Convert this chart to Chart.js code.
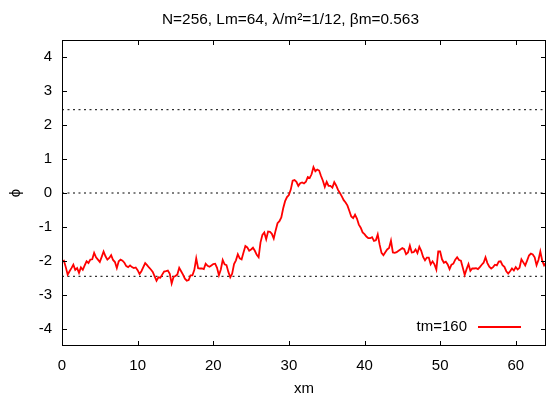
<!DOCTYPE html>
<html>
<head>
<meta charset="utf-8">
<script src="https://cdn.jsdelivr.net/npm/chart.js@4"></script>
<style>
  html, body { margin: 0; padding: 0; background: #fff; }
  canvas { display: block; }
</style>
</head>
<body>
<canvas id="c" width="546" height="398"></canvas>
<script>
// Lattice field snapshot phi(x) at tm=160
const titleText = 'N=256, Lm=64, λ/m²=1/12, βm=0.563';
const N = 256;
const Lm = 64;
const seriesLabel = 'tm=160';

const phi = [
  -2.01, -1.99, -2.18, -2.40, -2.30, -2.21, -2.11, -2.26, -2.21, -2.35,
  -2.19, -2.26, -2.13, -2.01, -2.06, -1.96, -1.95, -1.76, -1.89, -1.96,
  -2.03, -1.88, -1.72, -1.86, -1.96, -1.91, -1.83, -1.97, -2.03, -2.21,
  -2.01, -1.96, -1.99, -2.05, -2.15, -2.18, -2.13, -2.18, -2.21, -2.19,
  -2.27, -2.38, -2.30, -2.18, -2.06, -2.12, -2.19, -2.25, -2.32, -2.45,
  -2.58, -2.48, -2.49, -2.40, -2.31, -2.30, -2.28, -2.38, -2.66, -2.47,
  -2.44, -2.40, -2.20, -2.30, -2.40, -2.52, -2.58, -2.56, -2.42, -2.42,
  -2.26, -1.92, -2.21, -2.22, -2.22, -2.24, -2.08, -2.14, -2.17, -2.13,
  -2.09, -2.08, -2.20, -2.42, -2.25, -1.97, -2.10, -2.12, -2.32, -2.48,
  -2.37, -2.09, -1.98, -1.80, -1.92, -1.95, -1.75, -1.56, -1.60, -1.70,
  -1.66, -1.61, -1.70, -1.82, -1.89, -1.45, -1.23, -1.16, -1.36, -1.13,
  -1.14, -1.20, -1.34, -1.10, -0.89, -0.83, -0.72, -0.45, -0.24, -0.12,
  -0.06,  0.10,  0.36,  0.38,  0.33,  0.21,  0.29,  0.31,  0.28,  0.33,
   0.47,  0.44,  0.55,  0.76,  0.64,  0.69,  0.66,  0.50,  0.36,  0.18,
   0.33,  0.21,  0.21,  0.16,  0.32,  0.22,  0.09,  0.00, -0.10, -0.21,
  -0.28, -0.37, -0.53, -0.69, -0.74, -0.64, -0.75, -0.93, -1.02, -1.16,
  -1.21, -1.28, -1.33, -1.33, -1.30, -1.41, -1.39, -1.22, -1.52, -1.76,
  -1.83, -1.74, -1.66, -1.62, -1.40, -1.75, -1.76, -1.74, -1.70, -1.66,
  -1.62, -1.65, -1.80, -1.75, -1.55, -1.75, -1.74, -1.66, -1.77, -1.58,
  -1.70, -1.88, -1.98, -1.90, -1.90, -2.10, -2.01, -2.10, -2.25, -1.72,
  -1.72, -1.95, -2.05, -2.02, -2.10, -2.24, -2.11, -2.08, -1.96, -1.89,
  -1.97, -1.99, -2.20, -2.41, -2.24, -2.09, -2.29, -2.22, -2.22, -2.21,
  -2.24, -2.18, -2.11, -2.05, -1.89, -2.06, -2.17, -2.22, -2.18, -2.11,
  -2.13, -2.02, -2.01, -2.12, -2.17, -2.30, -2.37, -2.30, -2.22, -2.28,
  -2.18, -2.25, -2.20, -1.95, -2.04, -2.13, -1.99, -1.84, -1.78, -1.81,
  -1.89, -2.12, -1.97, -1.72, -1.99, -2.13, -2.05
];

// Vacuum levels (±) and zero, drawn as dotted guide lines
const vacuumLevels = [2.45, 0, -2.45];

const xTicks = [0, 10, 20, 30, 40, 50, 60];
const yTicks = [-4, -3, -2, -1, 0, 1, 2, 3, 4];
const xRange = [0, 64];
const yRange = [-4.5, 4.5];

// lattice sites in units of 1/m
const xm = phi.map((_, i) => i * Lm / N);

const FONT = "'Liberation Sans', Arial, sans-serif";

const fieldData = phi.map((v, i) => ({ x: xm[i], y: v }));
const guideSets = vacuumLevels.map(v => ({
  data: [{ x: xRange[0], y: v }, { x: xRange[1], y: v }],
  borderColor: '#000',
  borderWidth: 1,
  borderDash: [2, 3.5],
  pointRadius: 0,
  fill: false
}));

// frame, inward tick marks, key and heading
const framePlugin = {
  id: 'frame',
  afterDatasetsDraw(chart) {
    const { ctx, chartArea: a, scales: { x, y } } = chart;
    ctx.save();
    ctx.strokeStyle = '#000';
    ctx.lineWidth = 1;
    ctx.strokeRect(a.left + 0.5, a.top + 0.5, a.right - a.left - 1, a.bottom - a.top - 1);

    const tl = 5;
    ctx.beginPath();
    x.ticks.forEach(t => {
      const px = Math.round(x.getPixelForValue(t.value)) + 0.5;
      ctx.moveTo(px, a.bottom); ctx.lineTo(px, a.bottom - tl);
      ctx.moveTo(px, a.top); ctx.lineTo(px, a.top + tl);
    });
    y.ticks.forEach(t => {
      const py = Math.round(y.getPixelForValue(t.value)) + 0.5;
      ctx.moveTo(a.left, py); ctx.lineTo(a.left + tl, py);
      ctx.moveTo(a.right, py); ctx.lineTo(a.right - tl, py);
    });
    ctx.stroke();

    // key
    const ds = chart.data.datasets[0];
    ctx.font = '15px ' + FONT;
    ctx.fillStyle = '#000';
    ctx.textAlign = 'right';
    ctx.textBaseline = 'middle';
    ctx.fillText(ds.label, 467, 327);
    ctx.strokeStyle = ds.borderColor;
    ctx.lineWidth = ds.borderWidth;
    ctx.beginPath();
    ctx.moveTo(478, 327);
    ctx.lineTo(521, 327);
    ctx.stroke();

    // heading
    ctx.textAlign = 'left';
    ctx.textBaseline = 'alphabetic';
    ctx.fillStyle = '#000';
    ctx.font = '15.4px ' + FONT;
    ctx.fillText(titleText, 162, 24);
    ctx.restore();
  }
};

new Chart(document.getElementById('c'), {
  type: 'line',
  data: {
    datasets: [
      {
        label: seriesLabel,
        data: fieldData,
        borderColor: '#ff0000',
        borderWidth: 1.8,
        pointRadius: 0,
        tension: 0,
        fill: false
      },
      ...guideSets
    ]
  },
  options: {
    responsive: false,
    animation: false,
    devicePixelRatio: 1,
    layout: { padding: { top: 40, left: 0, right: 0, bottom: 0 } },
    plugins: {
      legend: { display: false },
      tooltip: { enabled: false },
      title: { display: false }
    },
    scales: {
      x: {
        type: 'linear',
        min: xRange[0],
        max: xRange[1],
        afterBuildTicks: s => { s.ticks = xTicks.map(v => ({ value: v })); },
        afterFit: s => { s.height = 52; },
        grid: { display: false, drawTicks: false },
        border: { display: false },
        ticks: {
          color: '#000',
          font: { family: FONT, size: 15 },
          padding: 11,
          maxRotation: 0,
          autoSkip: false
        },
        title: {
          display: true,
          text: 'xm',
          color: '#000',
          font: { family: FONT, size: 15 },
          padding: { top: 0, bottom: 0 }
        }
      },
      y: {
        type: 'linear',
        min: yRange[0],
        max: yRange[1],
        afterBuildTicks: s => { s.ticks = yTicks.map(v => ({ value: v })); },
        afterFit: s => { s.width = 62; },
        grid: { display: false, drawTicks: false },
        border: { display: false },
        ticks: {
          color: '#000',
          font: { family: FONT, size: 15 },
          padding: 10,
          autoSkip: false
        },
        title: {
          display: true,
          text: 'ϕ',
          color: '#000',
          font: { family: FONT, size: 15 },
          padding: { top: 7, bottom: 0 }
        }
      }
    }
  },
  plugins: [framePlugin]
});
</script>
</body>
</html>
